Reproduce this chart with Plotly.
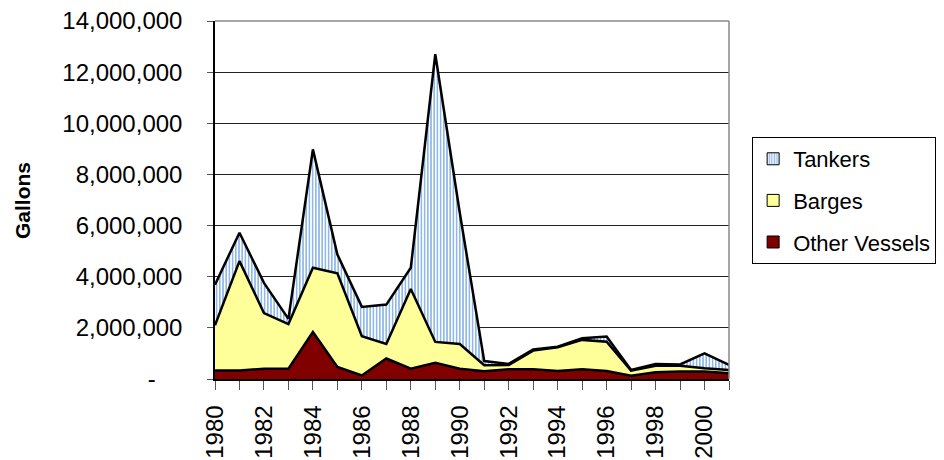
import plotly.graph_objects as go

years = list(range(1980, 2002))
other_vessels = [330000, 330000, 400000, 400000, 1840000, 470000, 140000, 800000, 400000, 630000, 400000,
                 300000, 380000, 380000, 310000, 380000, 310000, 130000, 260000, 290000, 290000, 220000]
barges = [1770000, 4280000, 2180000, 1750000, 2510000, 3660000, 1530000, 570000, 3120000, 820000, 970000,
          240000, 170000, 730000, 930000, 1150000, 1150000, 200000, 260000, 230000, 130000, 130000]
tankers = [1590000, 1110000, 1180000, 200000, 4630000, 740000, 1150000, 1540000, 830000, 11250000, 5130000,
           160000, 40000, 50000, 20000, 60000, 200000, 20000, 70000, 50000, 580000, 200000]

y_ticks = [0, 2000000, 4000000, 6000000, 8000000, 10000000, 12000000, 14000000]
y_ticktext = ["-" + "\u00a0" * 4] + [f"{v:,}" for v in y_ticks[1:]]
x_ticktext = [str(y) if y % 2 == 0 else "" for y in years]

FONT = "Liberation Sans, Arial, sans-serif"
BLUE = "#1F6FD6"
PATTERN = dict(shape="|", fgcolor=BLUE, bgcolor="white", size=3.2, solidity=0.5)

fig = go.Figure()
fig.add_trace(go.Scatter(
    x=years, y=other_vessels, name="Other Vessels", stackgroup="one", mode="lines",
    line=dict(color="black", width=2.5), fillcolor="#800000", showlegend=False))
fig.add_trace(go.Scatter(
    x=years, y=barges, name="Barges", stackgroup="one", mode="lines",
    line=dict(color="black", width=2.5), fillcolor="#FFFF99", showlegend=False))
fig.add_trace(go.Scatter(
    x=years, y=tankers, name="Tankers", stackgroup="one", mode="lines",
    line=dict(color="black", width=2.5), fillcolor="white",
    fillpattern=PATTERN, showlegend=False))

# legend entries (square swatches, like the original)
fig.add_trace(go.Bar(x=[None], y=[None], name="Tankers", legendgroup="a", legendrank=1,
                     marker=dict(color="white", pattern=PATTERN, line=dict(color="black", width=1))))
fig.add_trace(go.Bar(x=[None], y=[None], name="Barges", legendgroup="b", legendrank=2,
                     marker=dict(color="#FFFF99", line=dict(color="black", width=1))))
fig.add_trace(go.Bar(x=[None], y=[None], name="Other Vessels", legendgroup="c", legendrank=3,
                     marker=dict(color="#800000", line=dict(color="black", width=1))))

fig.update_layout(
    width=944, height=460,
    margin=dict(l=215, r=215, t=21, b=81, autoexpand=False),
    paper_bgcolor="white", plot_bgcolor="white",
    font=dict(family=FONT, size=22, color="black"),
    showlegend=True,
    legend=dict(x=1.045, y=0.676, xanchor="left", yanchor="top",
                bordercolor="black", borderwidth=1, bgcolor="white",
                font=dict(size=22), traceorder="grouped", tracegroupgap=10,
                itemwidth=30),
    xaxis=dict(range=[1980, 2001], tickvals=years, ticktext=x_ticktext, tickangle=-90,
               ticks="outside", ticklen=9, tickcolor="#555", showgrid=False,
               showline=True, linecolor="black", linewidth=1.5, zeroline=False,
               tickfont=dict(size=24), ticklabelstandoff=6, automargin=False),
    yaxis=dict(range=[0, 14000000], tickvals=y_ticks, ticktext=y_ticktext,
               ticks="outside", ticklen=6, tickcolor="#555",
               showgrid=True, gridcolor="#222", gridwidth=1,
               showline=True, linecolor="black", linewidth=1.5, zeroline=False,
               tickfont=dict(size=24), ticklabelstandoff=20, automargin=False),
    shapes=[
        dict(type="line", xref="paper", yref="paper", x0=0, x1=1, y0=1, y1=1,
             line=dict(color="#888", width=1.5)),
        dict(type="line", xref="paper", yref="paper", x0=1, x1=1, y0=0, y1=1,
             line=dict(color="#888", width=1.5)),
    ],
    annotations=[dict(text="<b>Gallons</b>", x=-0.3755, y=0.5, xref="paper", yref="paper",
                      textangle=-90, showarrow=False, font=dict(size=21),
                      xanchor="center", yanchor="middle")],
)

fig.write_html("out.html", config={"displayModeBar": False},
               post_script="document.body.style.margin='0';")
